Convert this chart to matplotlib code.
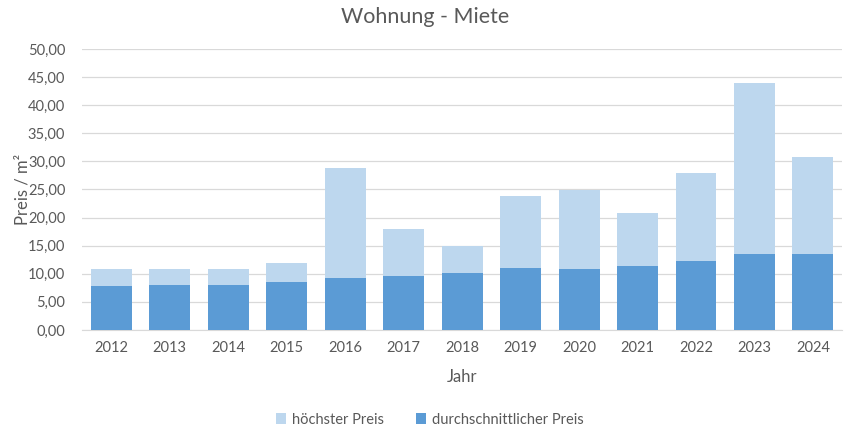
import matplotlib
matplotlib.use("Agg")
import matplotlib.pyplot as plt
from matplotlib.ticker import FuncFormatter, MultipleLocator

years = ["2012", "2013", "2014", "2015", "2016", "2017", "2018", "2019", "2020", "2021", "2022", "2023", "2024"]
hoechster = [10.9, 10.9, 10.9, 11.9, 28.9, 18.0, 14.9, 23.9, 24.9, 20.9, 28.0, 44.0, 30.7]
durchschnitt = [7.85, 8.0, 8.0, 8.6, 9.3, 9.65, 10.15, 11.05, 10.9, 11.4, 12.35, 13.6, 13.6]

plt.rcParams['font.family'] = ['Lato', 'DejaVu Sans']
txt = '#595959'

fig = plt.figure(figsize=(8.6, 4.29), dpi=100)
ax = fig.add_axes([0.0953, 0.2308, 0.884, 0.655])

x = range(len(years))
ax.bar(x, hoechster, width=0.70, color='#BDD7EE', label='höchster Preis', zorder=2)
ax.bar(x, durchschnitt, width=0.70, color='#5B9BD5', label='durchschnittlicher Preis', zorder=3)

ax.set_xlim(-0.5, len(years) - 0.5)
ax.set_ylim(0, 50)
ax.yaxis.set_major_locator(MultipleLocator(5))
ax.yaxis.set_major_formatter(FuncFormatter(lambda v, p: f"{v:.2f}".replace('.', ',')))
ax.set_xticks(list(x))
ax.set_xticklabels(years)
ax.grid(axis='y', color='#D9D9D9', linewidth=0.9, zorder=0)
ax.set_axisbelow(True)
for s in ['top', 'right', 'left']:
    ax.spines[s].set_visible(False)
ax.spines['bottom'].set_color('#D9D9D9')
ax.tick_params(axis='both', length=0, labelsize=10.5, colors=txt, pad=8)
ax.tick_params(axis='y', pad=12)

ax.set_xlabel('Jahr', fontsize=12, color=txt, labelpad=10)
ax.set_ylabel('Preis / m²', fontsize=12, color=txt, labelpad=-2)
fig.text(0.494, 0.96, 'Wohnung - Miete', fontsize=15.5, color=txt, ha='center', va='center')

fig.legend(loc='lower center', bbox_to_anchor=(0.5, -0.025), ncol=2, frameon=False,
           fontsize=10.5, labelcolor=txt, handlelength=0.7, handleheight=0.7,
           handletextpad=0.4, columnspacing=2.2)

fig.savefig('out.png', dpi=100)
